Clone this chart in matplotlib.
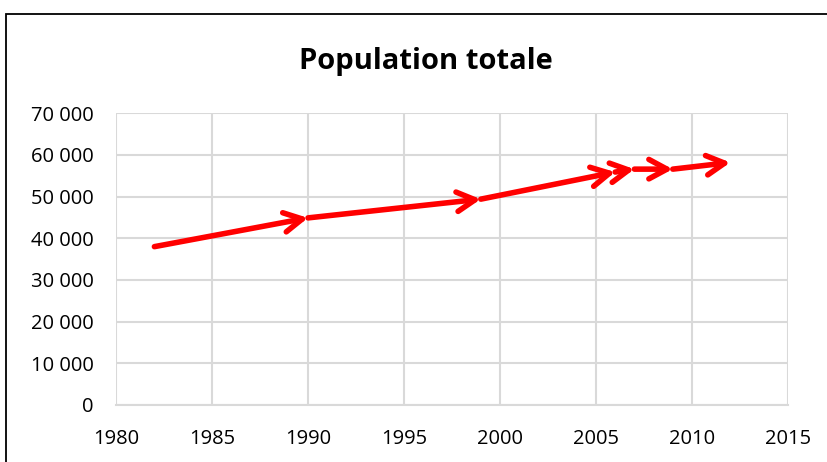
import matplotlib
matplotlib.use("Agg")
import matplotlib.pyplot as plt
from matplotlib.patches import Rectangle
from matplotlib.ticker import FuncFormatter

years = [1982, 1990, 1999, 2006, 2007, 2009, 2012]
population = [38000, 44900, 49400, 55900, 56600, 56600, 58200]

x_ticks = [1980, 1985, 1990, 1995, 2000, 2005, 2010, 2015]
y_ticks = [0, 10000, 20000, 30000, 40000, 50000, 60000, 70000]

plt.rcParams["font.family"] = ["Open Sans", "DejaVu Sans"]

fig = plt.figure(figsize=(8.28, 4.62), dpi=100)
W, H = 828, 462
ax = fig.add_axes([116 / W, 1 - 405 / H, (788 - 116) / W, (405 - 113.3) / H])

ax.set_xlim(x_ticks[0], x_ticks[-1])
ax.set_ylim(y_ticks[0], y_ticks[-1])
ax.set_xticks(x_ticks)
ax.set_yticks(y_ticks)
ax.yaxis.set_major_formatter(FuncFormatter(lambda v, p: f"{int(v):,}".replace(",", " ")))
ax.grid(True, color="#D9D9D9", linewidth=1.5)
ax.set_axisbelow(True)
for s in ax.spines.values():
    s.set_visible(False)
ax.spines["bottom"].set_visible(True)
ax.spines["bottom"].set_color("#D9D9D9")
ax.spines["bottom"].set_linewidth(1.5)
ax.tick_params(length=0, labelsize=14.5, colors="black")
ax.tick_params(axis="x", pad=17)
ax.tick_params(axis="y", pad=16)

# each segment ends with an open arrowhead
for i in range(1, len(years)):
    ax.annotate("", xy=(years[i], population[i]), xytext=(years[i - 1], population[i - 1]),
                arrowprops=dict(arrowstyle="->,head_length=1.3,head_width=0.7",
                                color="#FF0000", lw=4.0, capstyle="round",
                                joinstyle="round", shrinkA=0, shrinkB=0))

fig.text(426 / W, 1 - 69 / H, "Population totale", ha="center", va="baseline",
         fontsize=21, fontweight="bold")

# chart border
fig.patches.append(Rectangle((6 / W, -0.1), 1.2, 1 - 14 / H + 0.1, transform=fig.transFigure,
                             fill=False, edgecolor="black", linewidth=1.3))

fig.savefig("out.png", dpi=100)
